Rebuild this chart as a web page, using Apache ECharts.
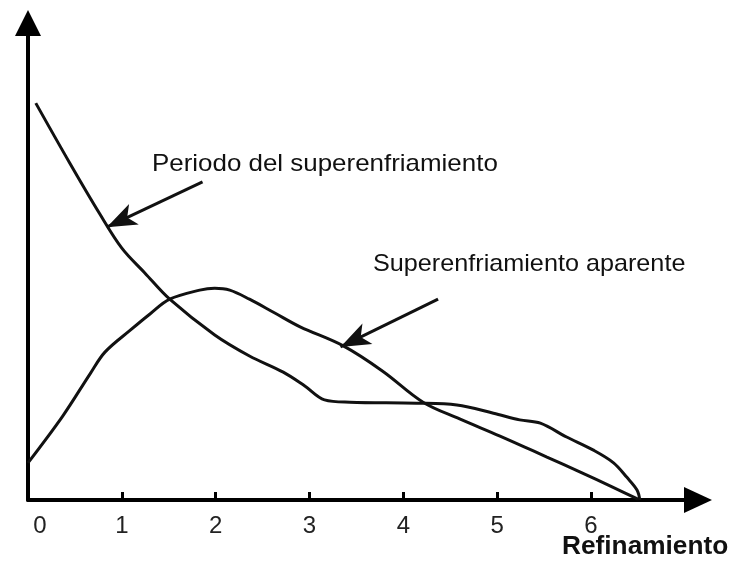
<!DOCTYPE html>
<html>
<head>
<meta charset="utf-8">
<script src="https://cdn.jsdelivr.net/npm/echarts@6/dist/echarts.min.js"></script>
<style>
html,body{margin:0;padding:0;background:#fff;}
#c{width:732px;height:570px;}
</style>
</head>
<body>
<div id="c"></div>
<script>
// Refinamiento (x) values, relative y values
const periodoX = [0.083, 0.446, 0.764, 1.00, 1.245, 1.51, 1.99, 2.36, 2.72, 2.95, 3.16, 3.43, 4.14, 4.57, 4.96, 5.24, 5.46, 5.74, 6.02, 6.24, 6.38, 6.49, 6.52];
const periodoY = [83.2, 70.6, 60.0, 52.8, 47.6, 42.1, 34.6, 30.2, 26.8, 23.9, 21.0, 20.5, 20.3, 19.9, 18.2, 16.8, 16.1, 13.2, 10.5, 7.8, 4.8, 2.1, 0.0];
const aparenteX = [0.0, 0.37, 0.66, 0.82, 1.09, 1.30, 1.51, 1.83, 1.99, 2.15, 2.36, 2.63, 2.90, 3.36, 3.78, 4.21, 4.60, 5.03, 5.53, 5.88, 6.23, 6.50];
const aparenteY = [7.8, 17.6, 26.4, 31.0, 35.6, 39.0, 42.1, 44.0, 44.4, 44.0, 42.1, 39.2, 36.3, 32.3, 27.0, 20.5, 17.0, 13.4, 9.0, 5.9, 2.7, 0.2];
const tickValues = [1, 2, 3, 4, 5, 6];
const labelValues = [0, 1, 2, 3, 4, 5, 6];
// annotation arrows: [from, to] in data coordinates
const periodoArrow = [[1.86, 66.7], [0.84, 57.2]];
const aparenteArrow = [[4.37, 42.1], [3.33, 32.1]];
const labelPeriodo = 'Periodo del superenfriamiento';
const labelAparente = 'Superenfriamiento aparente';
const axisName = 'Refinamiento';

const zip = (xs, ys) => xs.map((x, i) => [x, ys[i]]);
const FONT = '"Liberation Sans", Arial, sans-serif';

const arrowML = (pair) => ({
  silent: true,
  symbol: ['none', 'arrow'],
  label: {show: false},
  lineStyle: {color: '#111', width: 3, type: 'solid'},
  itemStyle: {color: '#111'},
  emphasis: {disabled: true},
  data: [[{coord: pair[0], symbol: 'none'}, {coord: pair[1], symbol: 'arrow', symbolSize: [17, 30], itemStyle: {color: '#111'}}]]
});

const chart = echarts.init(document.getElementById('c'), null, {renderer: 'canvas'});
chart.setOption({
  animation: false,
  backgroundColor: '#fff',
  grid: {left: 28, right: 34, top: 23, bottom: 70, containLabel: false},
  xAxis: {
    type: 'value', min: 0, max: 7.14, interval: 1,
    axisLine: {show: true, lineStyle: {color: '#000', width: 4}, symbol: ['none', 'triangle'], symbolSize: [26, 28]},
    axisTick: {show: true, inside: true, length: 8, lineStyle: {color: '#000', width: 3}, customValues: tickValues},
    axisLabel: {
      show: true, margin: 14, color: '#222', fontSize: 24, fontFamily: FONT,
      customValues: labelValues,
      formatter: (v) => v === 0 ? '{z|0}' : String(v),
      rich: {z: {padding: [0, 0, 0, 24], fontSize: 24, fontFamily: FONT, color: '#222'}}
    },
    splitLine: {show: false}
  },
  yAxis: {
    type: 'value', min: 0, max: 100,
    axisLine: {show: true, lineStyle: {color: '#000', width: 4}, symbol: ['none', 'triangle'], symbolSize: [26, 26]},
    axisTick: {show: false}, axisLabel: {show: false}, splitLine: {show: false}
  },
  series: [
    {
      type: 'line', name: labelPeriodo, data: zip(periodoX, periodoY),
      smooth: 0.35, symbol: 'none',
      lineStyle: {color: '#111', width: 3},
      markLine: arrowML(periodoArrow)
    },
    {
      type: 'line', name: labelAparente, data: zip(aparenteX, aparenteY),
      smooth: 0.35, symbol: 'none',
      lineStyle: {color: '#111', width: 3},
      markLine: arrowML(aparenteArrow)
    }
  ],
  graphic: [
    {type: 'text', x: 152, y: 164, scaleX: 1.08, style: {text: labelPeriodo, font: '24px ' + FONT, fill: '#111', textVerticalAlign: 'middle'}},
    {type: 'text', x: 373, y: 264, scaleX: 1.05, style: {text: labelAparente, font: '24px ' + FONT, fill: '#111', textVerticalAlign: 'middle'}},
    {type: 'text', x: 562, y: 547, scaleX: 1.05, style: {text: axisName, font: 'bold 25px ' + FONT, fill: '#111', textVerticalAlign: 'middle'}}
  ]
});
</script>
</body>
</html>
